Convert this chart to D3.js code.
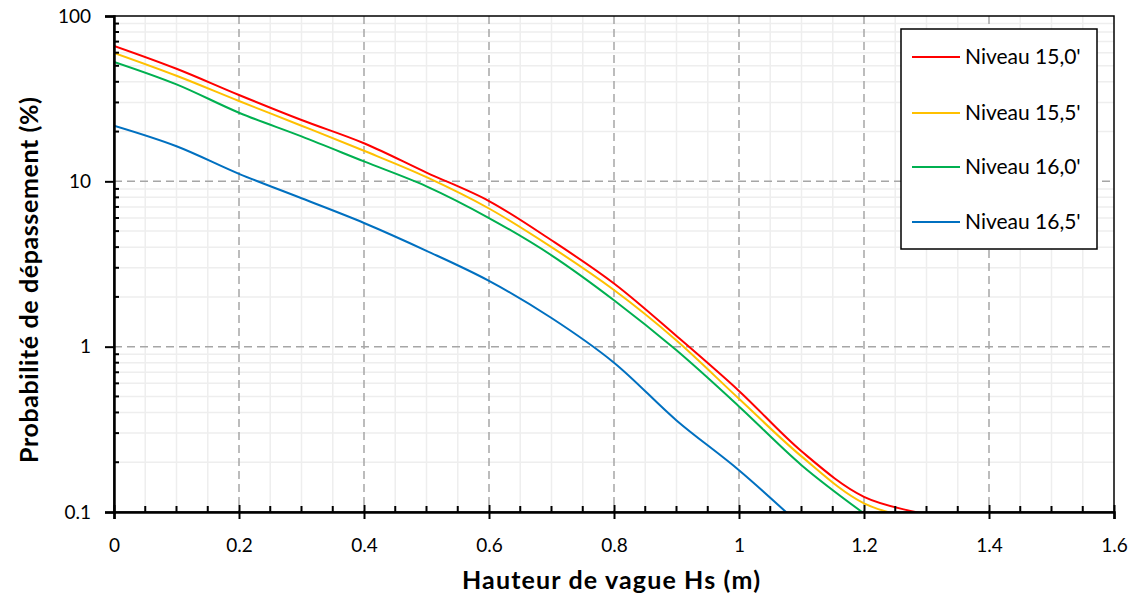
<!DOCTYPE html>
<html>
<head>
<meta charset="utf-8">
<script src="https://cdn.jsdelivr.net/npm/d3@7"></script>
<style>
  html, body { margin: 0; padding: 0; background: #fff; }
  svg { display: block; }
  text { font-family: Lato, "Open Sans", sans-serif; fill: #000; }
</style>
</head>
<body>
<svg id="chart" width="1135" height="598"></svg>
<script>
// ---- data ----
const hs = [0, 0.1, 0.2, 0.3, 0.4, 0.5, 0.6, 0.7, 0.8, 0.9, 1.0, 1.1, 1.2, 1.3];
const niveau150 = [66, 48, 33.3, 23.5, 17.0, 11.3, 7.6, 4.4, 2.41, 1.16, 0.54, 0.233, 0.1236, 0.097];
const niveau155 = [59.8, 43.5, 30.6, 21.7, 15.3, 10.6, 6.85, 4.0, 2.2, 1.09, 0.484, 0.217, 0.1128, 0.088];
const niveau160 = [52.8, 38.6, 26.0, 18.7, 13.2, 9.33, 6.0, 3.57, 1.91, 0.95, 0.435, 0.192, 0.098];
const niveau165 = [21.7, 16.3, 11.1, 7.9, 5.6, 3.8, 2.5, 1.49, 0.8, 0.358, 0.179, 0.082];
const seriesNames = ["Niveau 15,0'", "Niveau 15,5'", "Niveau 16,0'", "Niveau 16,5'"];
const seriesColors = ["#ff0000", "#ffc000", "#00b050", "#0070c0"];
const xTicks = [0, 0.2, 0.4, 0.6, 0.8, 1, 1.2, 1.4, 1.6];
const yTicks = [0.1, 1, 10, 100];
const xTitle = "Hauteur de vague Hs (m)";
const yTitle = "Probabilité de dépassement (%)";

const allSeries = [niveau150, niveau155, niveau160, niveau165].map((vals, i) => ({
  name: seriesNames[i], color: seriesColors[i],
  points: vals.map((v, j) => [hs[j], v])
}));

// ---- layout ----
const svg = d3.select("#chart");
const L = 114, R = 1114, T = 16, B = 512;
const x = d3.scaleLinear().domain([0, 1.6]).range([L, R]);
const y = d3.scaleLog().domain([0.1, 100]).range([B, T]);

// minor grid
const xMinor = d3.range(0, 1.6001, 0.05).filter(v => Math.abs(v / 0.2 - Math.round(v / 0.2)) > 1e-6);
const yMinor = [];
[0.1, 1, 10].forEach(d => { for (let k = 2; k <= 9; k++) yMinor.push(d * k); });

const grid = svg.append("g");
grid.selectAll(".xm").data(xMinor).join("line")
  .attr("x1", d => x(d)).attr("x2", d => x(d)).attr("y1", T).attr("y2", B)
  .attr("stroke", "#eeeeee").attr("stroke-width", 1.5);
grid.selectAll(".ym").data(yMinor).join("line")
  .attr("y1", d => y(d)).attr("y2", d => y(d)).attr("x1", L).attr("x2", R)
  .attr("stroke", "#eeeeee").attr("stroke-width", 1.5);
// major grid (dashed)
grid.selectAll(".xM").data(xTicks.filter(d => d > 0 && d < 1.6)).join("line")
  .attr("x1", d => x(d)).attr("x2", d => x(d)).attr("y1", T).attr("y2", B)
  .attr("stroke", "#a6a6a6").attr("stroke-width", 1.5).attr("stroke-dasharray", "8,5");
grid.selectAll(".yM").data(yTicks.filter(d => d > 0.1 && d < 100)).join("line")
  .attr("y1", d => y(d)).attr("y2", d => y(d)).attr("x1", L).attr("x2", R)
  .attr("stroke", "#a6a6a6").attr("stroke-width", 1.5).attr("stroke-dasharray", "8,5");

// clip
svg.append("defs").append("clipPath").attr("id", "clip")
  .append("rect").attr("x", L).attr("y", T).attr("width", R - L).attr("height", B - T);

// lines
const line = d3.line().x(d => x(d[0])).y(d => y(d[1])).curve(d3.curveCatmullRom.alpha(0.5));
svg.append("g").attr("clip-path", "url(#clip)")
  .selectAll("path").data(allSeries).join("path")
  .attr("d", d => line(d.points))
  .attr("fill", "none").attr("stroke", d => d.color).attr("stroke-width", 2);

// frame
svg.append("rect").attr("x", L).attr("y", T).attr("width", R - L).attr("height", B - T)
  .attr("fill", "none").attr("stroke", "#000").attr("stroke-width", 1.5);

// axes
const xAxis = d3.axisBottom(x).tickValues(xTicks).tickFormat(d => d3.format("")(+d.toFixed(1))).tickSize(7).tickPadding(20);
const gx = svg.append("g").attr("transform", `translate(0,${B})`).call(xAxis);
gx.select(".domain").attr("stroke", "#000").attr("stroke-width", 2.5);
gx.selectAll(".tick line").attr("stroke", "#000").attr("stroke-width", 2).attr("y1", -7);
gx.selectAll(".tick text").attr("font-size", 19).attr("font-family", "Lato").attr("fill", "#000");
svg.append("g").selectAll("line").data(xMinor).join("line")
  .attr("x1", d => x(d)).attr("x2", d => x(d)).attr("y1", B - 6).attr("y2", B)
  .attr("stroke", "#000").attr("stroke-width", 2);

const yAxis = d3.axisLeft(y).tickValues(yTicks).tickFormat(d => String(d)).tickSize(9).tickPadding(14);
const gy = svg.append("g").attr("transform", `translate(${L},0)`).call(yAxis);
gy.select(".domain").attr("stroke", "#000").attr("stroke-width", 2.5);
gy.selectAll(".tick line").attr("stroke", "#000").attr("stroke-width", 2);
gy.selectAll(".tick text").attr("font-size", 19).attr("font-family", "Lato").attr("fill", "#000");
svg.append("g").selectAll("line").data(yMinor).join("line")
  .attr("y1", d => y(d)).attr("y2", d => y(d)).attr("x1", L).attr("x2", L + 5)
  .attr("stroke", "#000").attr("stroke-width", 2);

// titles
svg.append("text").attr("x", 611).attr("y", 589).attr("text-anchor", "middle")
  .attr("font-weight", "bold").attr("font-size", 25)
  .attr("textLength", 298).attr("lengthAdjust", "spacing").text(xTitle);
svg.append("text").attr("transform", "translate(38,280) rotate(-90)").attr("text-anchor", "middle")
  .attr("font-weight", "bold").attr("font-size", 25)
  .attr("textLength", 366).attr("lengthAdjust", "spacing").text(yTitle);

// legend
const lg = svg.append("g");
lg.append("rect").attr("x", 901).attr("y", 29).attr("width", 196).attr("height", 220)
  .attr("fill", "#fff").attr("stroke", "#000").attr("stroke-width", 1.5);
const rowsY = [57, 113, 167, 222];
const items = lg.selectAll("g.item").data(allSeries).join("g").attr("class", "item")
  .attr("transform", (d, i) => `translate(0,${rowsY[i]})`);
items.append("line").attr("x1", 912).attr("x2", 960).attr("y1", 0).attr("y2", 0)
  .attr("stroke", d => d.color).attr("stroke-width", 2);
items.append("text").attr("x", 965).attr("y", 0).attr("dy", "0.35em")
  .attr("font-size", 21).text(d => d.name);
</script>
</body>
</html>
